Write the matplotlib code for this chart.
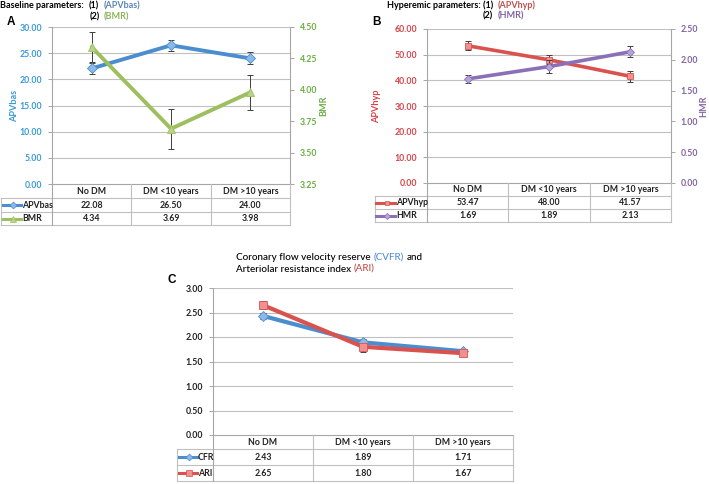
import matplotlib
matplotlib.use("Agg")
import matplotlib.pyplot as plt
import numpy as np

plt.rcParams['font.family'] = ['Lato', 'DejaVu Sans']

# ---------------- data ----------------
categories = ["No DM", "DM <10 years", "DM >10 years"]

apvbas = [22.08, 26.50, 24.00]
apvbas_err = [1.0, 1.05, 1.15]
bmr = [4.34, 3.69, 3.98]
bmr_err = [0.12, 0.16, 0.14]

apvhyp = [53.47, 48.00, 41.57]
apvhyp_err = [1.8, 1.8, 2.1]
hmr = [1.69, 1.89, 2.13]
hmr_err = [0.07, 0.11, 0.09]

cfr = [2.43, 1.89, 1.71]
cfr_err = [0.06, 0.06, 0.05]
ari = [2.65, 1.80, 1.67]
ari_err = [0.08, 0.10, 0.05]

yticks_apvbas = [0, 5, 10, 15, 20, 25, 30]
yticks_bmr = [3.25, 3.50, 3.75, 4.00, 4.25, 4.50]
yticks_apvhyp = [0, 10, 20, 30, 40, 50, 60]
yticks_hmr = [0, 0.5, 1.0, 1.5, 2.0, 2.5]
yticks_c = [0, 0.5, 1.0, 1.5, 2.0, 2.5, 3.0]

# ---------------- style ----------------
W, H = 709, 484
fig = plt.figure(figsize=(W / 100, H / 100), dpi=100)
fig.patch.set_facecolor('white')
renderer = fig.canvas.get_renderer()

BLUE_L, BLUE_M = '#4A8ECF', '#8DB9E8'
GREEN_L, GREEN_M = '#9DBF5E', '#B9D38C'
RED_L, RED_M = '#D9524E', '#F09090'
PURP_L, PURP_M = '#8B70B8', '#B6A4D8'
BLUE_T, GREEN_T, RED_T, PURP_T = '#3A9AD6', '#6BAE45', '#D9434A', '#8064A2'
GRID = '#C0C0C0'
AXC = '#A6A6A6'
ERRC = '#3F3F3F'
FS = 6.3


def rect(l, t, r, b):
    return [l / W, 1 - b / H, (r - l) / W, (b - t) / H]


def style_axis(ax, ticks, color):
    ax.set_ylim(ticks[0], ticks[-1])
    ax.set_yticks(ticks)
    ax.set_yticklabels(["%.2f" % v for v in ticks], fontweight='bold')
    ax.tick_params(axis='y', which='both', direction='out', length=3, width=0.7,
                   colors=AXC, labelcolor=color, labelsize=FS, pad=4)
    ax.set_xlim(-0.5, 2.5)
    ax.set_xticks([])
    for s in ['top', 'bottom', 'left', 'right']:
        ax.spines[s].set_visible(False)


def main_axes(l, t, r, b, ticks, color, label, label_x):
    ax = fig.add_axes(rect(l, t, r, b))
    ax.set_facecolor('none')
    style_axis(ax, ticks, color)
    ax.spines['left'].set_visible(True)
    ax.spines['left'].set_color(AXC)
    ax.spines['left'].set_linewidth(0.8)
    for v in ticks[1:]:
        ax.axhline(v, color=GRID, lw=0.8, zorder=0)
    if label:
        ax.set_ylabel(label, color=color, fontsize=6.6, fontweight='bold')
        ax.yaxis.set_label_coords((label_x - l) / (r - l), 0.5)
    return ax


def twin_axes(ax, l, r, ticks, color, label, label_x):
    ax2 = ax.twinx()
    style_axis(ax2, ticks, color)
    ax2.yaxis.tick_right()
    ax2.tick_params(axis='y', labelright=True, labelleft=False)
    ax2.spines['right'].set_visible(True)
    ax2.spines['right'].set_color(AXC)
    ax2.spines['right'].set_linewidth(0.8)
    ax2.set_ylabel(label, color=color, fontsize=6.6, fontweight='bold')
    ax2.yaxis.set_label_position('right')
    ax2.yaxis.set_label_coords((label_x - l) / (r - l), 0.5)
    return ax2


def series(ax, vals, errs, lc, mc, marker, ms, lw):
    x = np.arange(len(vals))
    ax.errorbar(x, vals, yerr=errs, fmt='none', ecolor=ERRC, elinewidth=0.7,
                capsize=2.2, capthick=0.7, zorder=3)
    ax.plot(x, vals, color=lc, lw=lw, marker=marker, ms=ms, mfc=mc, mec=lc,
            mew=0.6, zorder=4, solid_capstyle='round')


def table(l, r, tl, rows, series_info):
    # rows: [top_header, top_row1, top_row2, bottom]
    tax = fig.add_axes(rect(tl, rows[0], r, rows[3]))
    tax.set_xlim(tl, r)
    tax.set_ylim(rows[3], rows[0])
    tax.axis('off')
    tax.patch.set_visible(False)
    lw = 0.8
    w = (r - l) / 3.0
    tax.plot([l, r], [rows[0], rows[0]], color=AXC, lw=lw, clip_on=False)
    for y in rows[1:]:
        tax.plot([tl, r], [y, y], color=GRID, lw=lw, clip_on=False)
    tax.plot([tl, tl], [rows[1], rows[3]], color=GRID, lw=lw, clip_on=False)
    tax.plot([l, l], [rows[0], rows[3]], color=AXC, lw=lw, clip_on=False)
    for i in range(1, 3):
        tax.plot([l + i * w, l + i * w], [rows[0], rows[3]], color=GRID, lw=lw, clip_on=False)
    tax.plot([r, r], [rows[0], rows[3]], color=GRID, lw=lw, clip_on=False)
    for i, c in enumerate(categories):
        tax.text(l + (i + 0.5) * w, (rows[0] + rows[1]) / 2, c, ha='center', va='center',
                 fontsize=FS, fontweight='bold', color='#222222')
    for k, (name, vals, lc, mc, marker, ms) in enumerate(series_info):
        yc = (rows[k + 1] + rows[k + 2]) / 2
        tax.plot([tl + 1.5, tl + 20], [yc, yc], color=lc, lw=2.2, clip_on=False)
        tax.plot([tl + 12], [yc], marker=marker, ms=ms * 0.7, mfc=mc, mec=lc, mew=0.5,
                 clip_on=False)
        tax.text(tl + 21, yc, name, ha='left', va='center', fontsize=FS,
                 fontweight='bold', color='#222222')
        for i, v in enumerate(vals):
            tax.text(l + (i + 0.5) * w, yc, "%.2f" % v, ha='center', va='center',
                     fontsize=FS, fontweight='bold', color='#222222')


def put(x, y, s, color='black', size=6.5, weight='bold', ha='left'):
    t = fig.text(x / W, 1 - y / H, s, ha=ha, va='center', fontsize=size,
                 fontweight=weight, color=color)
    return t.get_window_extent(renderer)


def rich(x, y, parts, size, weight, gap):
    starts = []
    for s, c in parts:
        starts.append(x)
        bb = put(x, y, s, c, size, weight)
        x = x + bb.width + gap
    return starts


def panel_letter(x, y, s):
    fig.text(x / W, 1 - y / H, s, ha='left', va='center', fontsize=8.5,
             fontweight='bold', family=['Liberation Sans', 'DejaVu Sans'])


# ---------------- Panel A ----------------
lA, tA, rA, bA = 52, 27, 290, 184
axA = main_axes(lA, tA, rA, bA, yticks_apvbas, BLUE_T, 'APVbas', 19)
series(axA, apvbas, apvbas_err, BLUE_L, BLUE_M, 'D', 5.0, 2.8)
axA2 = twin_axes(axA, lA, rA, yticks_bmr, GREEN_T, 'BMR', 319)
series(axA2, bmr, bmr_err, GREEN_L, GREEN_M, '^', 6.0, 2.8)
table(lA, rA, 1, [184, 198, 212, 225],
      [("APVbas", apvbas, BLUE_L, BLUE_M, 'D', 5.0),
       ("BMR", bmr, GREEN_L, GREEN_M, '^', 6.0)])
sA = rich(0, 6, [("Baseline parameters:", 'black'), ("(1)", 'black'),
                 ("(APVbas)", '#5B84B8')], 6.5, 'bold', 5)
put(sA[2] - 4, 17, "(2)", 'black', 6.5, 'bold', ha='right')
put(sA[2], 17, "(BMR)", '#8DB55A', 6.5, 'bold')
panel_letter(7, 22, "A")

# ---------------- Panel B ----------------
lB, tB, rB, bB = 427, 29, 671, 183
axB = main_axes(lB, tB, rB, bB, yticks_apvhyp, RED_T, 'APVhyp', 381)
series(axB, apvhyp, apvhyp_err, RED_L, RED_M, 's', 5.0, 2.6)
axB2 = twin_axes(axB, lB, rB, yticks_hmr, PURP_T, 'HMR', 699)
series(axB2, hmr, hmr_err, PURP_L, PURP_M, 'D', 4.5, 2.6)
table(lB, rB, 375, [183, 196, 209, 222],
      [("APVhyp", apvhyp, RED_L, RED_M, 's', 5.0),
       ("HMR", hmr, PURP_L, PURP_M, 'D', 4.5)])
sB = rich(387, 5, [("Hyperemic parameters: (1)", 'black'),
                   ("(APVhyp)", '#C0504D')], 6.5, 'bold', 4)
put(sB[1] - 4, 16, "(2)", 'black', 6.5, 'bold', ha='right')
put(sB[1], 16, "(HMR)", '#8064A2', 6.5, 'bold')
panel_letter(372, 22, "B")

# ---------------- Panel C ----------------
lC, tC, rC, bC = 213, 288, 513, 435
axC = main_axes(lC, tC, rC, bC, yticks_c, '#222222', None, 0)
series(axC, cfr, cfr_err, BLUE_L, BLUE_M, 'D', 5.0, 3.0)
series(axC, ari, ari_err, RED_L, RED_M, 's', 5.5, 3.0)
table(lC, rC, 177, [435, 449, 465, 481],
      [("CFR", cfr, BLUE_L, BLUE_M, 'D', 5.0),
       ("ARI", ari, RED_L, RED_M, 's', 5.5)])
rich(236, 258, [("Coronary flow velocity reserve", 'black'), ("(CVFR)", '#4F8FD6'),
                ("and", 'black')], 7.1, 'medium', 3)
rich(236, 269, [("Arteriolar resistance index", 'black'), ("(ARI)", '#C0504D')],
     7.1, 'medium', 3)
panel_letter(167, 280, "C")

fig.savefig("out.png", dpi=100, facecolor='white')
